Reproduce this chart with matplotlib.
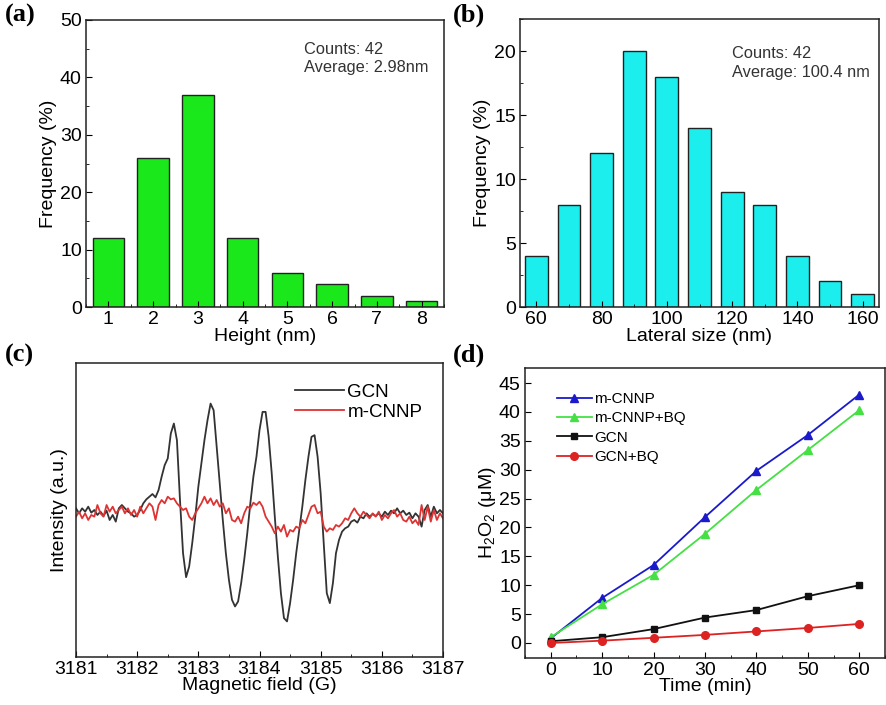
import matplotlib
matplotlib.use('Agg')
import matplotlib.pyplot as plt
import numpy as np
from matplotlib.ticker import MultipleLocator

plt.rcParams['font.family'] = ['Liberation Sans', 'DejaVu Sans']
plt.rcParams['mathtext.fontset'] = 'custom'
plt.rcParams['mathtext.rm'] = 'Liberation Sans'

# (a) height distribution
height_bins = [1, 2, 3, 4, 5, 6, 7, 8]
height_freq = [12, 26, 37, 12, 6, 4, 2, 1]

# (b) lateral size distribution
size_bins = [60, 70, 80, 90, 100, 110, 120, 130, 140, 150, 160]
size_freq = [4, 8, 12, 20, 18, 14, 9, 8, 4, 2, 1]

# (c) EPR spectra, field step 0.05 G from 3181 to 3187
field = np.round(np.arange(3181.0, 3187.001, 0.05), 2)
gcn_epr = [15, 0, 15, 5, 20, 2, 10, -5, 5, -8, 8, -20, -5, -25, 15, 25, 15, 5, 0, -10,
           -5, 10, 30, 42, 50, 58, 48, 70, 110, 145, 165, 240, 270, 220, 40, -120, -192, -160, -90, -10,
           80, 150, 220, 280, 330, 310, 200, 90, -20, -120, -200, -260, -280, -265, -210, -140, -60, 30, 110, 170,
           250, 305, 305, 230, 120, -10, -130, -240, -315, -325, -270, -200, -120, -50, 20, 100, 170, 230, 235, 170,
           60, -90, -240, -270, -210, -120, -80, -55, -45, -40, -25, -20, -28, -10, -15, 0, -10, -2, -8, 0,
           -10, 5, -5, 8, 0, 15, 0, 8, -5, 2, -15, 0, -10, -40, 10, 25, -10, 20, 0, 10, 0]
cnnp_epr = [-10, 5, -15, 0, -20, -5, -10, 25, 0, -10, 25, 5, 20, 0, 10, 20, 0, 15, -5, 10,
            -10, 20, 0, 15, 30, 20, -20, 25, 40, 30, 50, 42, 45, 30, 20, 10, 15, -10, -20, 0,
            15, 30, 50, 30, 45, 25, 40, 20, 30, 0, 15, -20, -25, -10, -30, 0, 20, 15, 32, 25,
            35, 20, -10, -25, -40, -60, -40, -55, -35, -70, -50, -55, -40, -45, -20, -30, -5, 20, 25, 0,
            5, -40, -55, -45, -50, -35, -40, -30, -15, -20, 0, 15, 0, -10, 5, -5, -15, 0, -10, 5,
            -20, -5, -15, 0, 10, -10, 0, -20, -25, -10, -30, -20, -35, 25, -20, 20, -25, 10, -20, 0, -15]

# (d) H2O2 production
time_min = [0, 10, 20, 30, 40, 50, 60]
h2o2_cnnp = [0.8, 7.8, 13.5, 21.8, 29.8, 36.0, 43.0]
h2o2_cnnp_bq = [1.0, 6.7, 11.8, 18.9, 26.5, 33.4, 40.3]
h2o2_gcn = [0.3, 1.0, 2.4, 4.4, 5.7, 8.1, 10.0]
h2o2_gcn_bq = [0.0, 0.4, 0.9, 1.4, 2.0, 2.6, 3.3]

fig = plt.figure(figsize=(8.86, 7.05), dpi=100)
fig.set_facecolor('white')

W, H = 886, 705
def box(l, t, r, b):
    return [l / W, 1 - b / H, (r - l) / W, (b - t) / H]

ax_a = fig.add_axes(box(86, 20, 444, 307))
ax_b = fig.add_axes(box(520, 19, 879, 307))
ax_c = fig.add_axes(box(76, 363, 443, 657))
ax_d = fig.add_axes(box(525, 368, 885, 658))

LS = 14  # label size
for ax in (ax_a, ax_b, ax_c, ax_d):
    ax.tick_params(direction='in', which='both', labelsize=LS, top=False, right=False, pad=3)
    ax.tick_params(which='major', length=4)
    ax.tick_params(which='minor', length=2.5)
    for s in ax.spines.values():
        s.set_linewidth(1.1)
        s.set_color('#222222')

# (a)
ax_a.bar(height_bins, height_freq, width=0.7, color='#1be81b', edgecolor='#222222', linewidth=1)
ax_a.set_xlim(0.5, 8.5)
ax_a.set_ylim(0, 50)
ax_a.set_xticks(height_bins)
ax_a.yaxis.set_major_locator(MultipleLocator(10))
ax_a.yaxis.set_minor_locator(MultipleLocator(5))
ax_a.xaxis.set_minor_locator(MultipleLocator(0.5))
ax_a.set_xlabel('Height (nm)', fontsize=LS, labelpad=0)
ax_a.set_ylabel('Frequency (%)', fontsize=LS, labelpad=2)
ax_a.text(0.61, 0.925, 'Counts: 42\nAverage: 2.98nm', transform=ax_a.transAxes,
          va='top', ha='left', fontsize=11.8, linespacing=1.3, color='#333333')

# (b)
ax_b.bar(size_bins, size_freq, width=7, color='#1ceeee', edgecolor='#222222', linewidth=1)
ax_b.set_xlim(55, 165)
ax_b.set_ylim(0, 22.5)
ax_b.xaxis.set_major_locator(MultipleLocator(20))
ax_b.xaxis.set_minor_locator(MultipleLocator(10))
ax_b.yaxis.set_major_locator(MultipleLocator(5))
ax_b.yaxis.set_minor_locator(MultipleLocator(2.5))
ax_b.set_xlabel('Lateral size (nm)', fontsize=LS, labelpad=0)
ax_b.set_ylabel('Frequency (%)', fontsize=LS, labelpad=2)
ax_b.text(0.59, 0.905, 'Counts: 42\nAverage: 100.4 nm', transform=ax_b.transAxes,
          va='top', ha='left', fontsize=11.8, linespacing=1.3, color='#333333')

# (c)
ax_c.plot(field, gcn_epr, color='#333333', lw=1.3, label='GCN')
ax_c.plot(field, cnnp_epr, color='#dd3333', lw=1.3, label='m-CNNP')
ax_c.set_xlim(3181, 3187)
ax_c.set_ylim(-432, 452)
ax_c.set_yticks([])
ax_c.xaxis.set_major_locator(MultipleLocator(1))
ax_c.xaxis.set_minor_locator(MultipleLocator(0.5))
ax_c.xaxis.set_major_formatter(matplotlib.ticker.FormatStrFormatter('%d'))
ax_c.set_xlabel('Magnetic field (G)', fontsize=LS, labelpad=-1)
ax_c.set_ylabel('Intensity (a.u.)', fontsize=LS, labelpad=6)
ax_c.legend(loc='upper right', frameon=False, fontsize=13.5, handlelength=2.6,
            handletextpad=0.2, labelspacing=0.15, borderaxespad=0.7)

# (d)
ax_d.plot(time_min, h2o2_cnnp, color='#1a1acc', marker='^', ms=6, lw=1.3, label='m-CNNP')
ax_d.plot(time_min, h2o2_cnnp_bq, color='#44e044', marker='^', ms=6, lw=1.3, label='m-CNNP+BQ')
ax_d.plot(time_min, h2o2_gcn, color='#111111', marker='s', ms=5, lw=1.3, label='GCN')
ax_d.plot(time_min, h2o2_gcn_bq, color='#dd2222', marker='o', ms=5.5, lw=1.3, label='GCN+BQ')
ax_d.set_xlim(-5, 65)
ax_d.set_ylim(-2.6, 47.6)
ax_d.xaxis.set_major_locator(MultipleLocator(10))
ax_d.xaxis.set_minor_locator(MultipleLocator(5))
ax_d.yaxis.set_major_locator(MultipleLocator(5))
ax_d.set_xlabel('Time (min)', fontsize=LS, labelpad=-1)
ax_d.set_ylabel('H$_2$O$_2$ (μM)', fontsize=LS, labelpad=1)
ax_d.legend(loc='upper left', frameon=False, fontsize=11, handlelength=2.3,
            handletextpad=0.15, labelspacing=0.35, bbox_to_anchor=(0.05, 0.965))

# panel letters
for lab, x, y in [('(a)', 5, 4), ('(b)', 453, 4), ('(c)', 5, 344), ('(d)', 453, 344)]:
    fig.text(x / W, 1 - y / H, lab, fontsize=19, fontweight='bold',
             family='Liberation Serif', va='top', ha='left')

fig.savefig('out.png', dpi=100, facecolor='white')
